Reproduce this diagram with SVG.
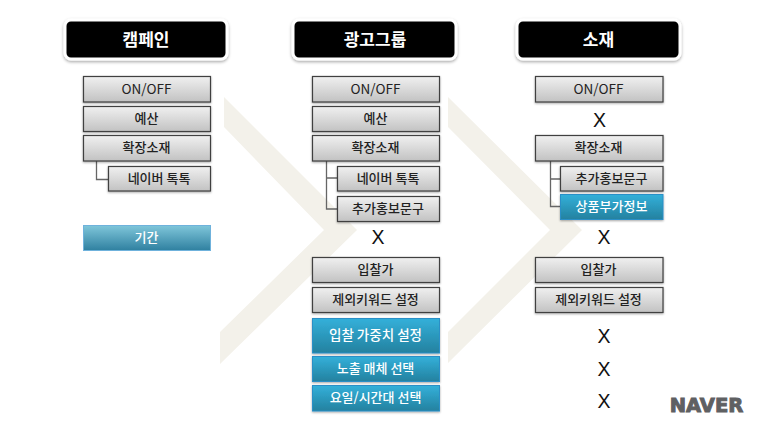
<svg xmlns="http://www.w3.org/2000/svg" width="760" height="424" viewBox="0 0 760 424">
<style>
text{font-family:"Noto Sans CJK KR","Liberation Sans",sans-serif;text-anchor:middle}
.h rect{fill:#000;stroke:#fff;stroke-width:3;filter:url(#hs)}
.h text{fill:#fff;font-size:17px;font-weight:700}
.g rect{fill:url(#gg);stroke:#3f3f3f;stroke-width:1.2;filter:url(#bs)}
.g text{fill:#222;font-size:13px;font-weight:500}
.b rect{fill:url(#bb);stroke:#2a8fc7;stroke-width:1;filter:url(#bs)}
.b text{fill:#fff;font-size:13px;font-weight:500}
.l rect{fill:url(#lb);stroke:#6fb2dc;stroke-width:1}
.l text{fill:#fff;font-size:13px;font-weight:500}
.g .en{font-weight:400;font-size:13.500px}
.b .big{font-size:13.500px}
.x{font-family:"Liberation Sans",sans-serif;font-size:19.500px;fill:#111}
#connectors path{fill:none;stroke:#666;stroke-width:1.3}
.c{fill:#f3f1ea}
</style>
<defs>
<linearGradient id="gg" x1="0" y1="0" x2="0" y2="1"><stop offset="0" stop-color="#f0f0f0"/><stop offset="1" stop-color="#c2c2c2"/></linearGradient>
<linearGradient id="bb" x1="0" y1="0" x2="0" y2="1"><stop offset="0" stop-color="#33b0da"/><stop offset="1" stop-color="#24819f"/></linearGradient>
<linearGradient id="lb" x1="0" y1="0" x2="0" y2="1"><stop offset="0" stop-color="#7fc6da"/><stop offset="1" stop-color="#2f80a0"/></linearGradient>
<filter id="hs" x="-10%" y="-20%" width="120%" height="150%"><feDropShadow dx="0" dy="1.5" stdDeviation="1.5" flood-color="#000" flood-opacity=".35"/></filter>
<filter id="bs" x="-5%" y="-10%" width="110%" height="130%"><feDropShadow dx="0" dy="1" stdDeviation=".8" flood-color="#000" flood-opacity=".35"/></filter>
</defs>
<rect width="760" height="424" fill="#fff"/>
<path class="c" d="M224 97V127L324 230L220 332V364L357 230Z"/>
<path class="c" d="M448 97V127L550 230L448 332V363L582 230Z"/>

<g id="connectors">
<path d="M96.500 161V179.500H108"/>
<path d="M326.500 161V209H337M326.500 178H337"/>
<path d="M550.500 161V206.500H560M550.500 179H560"/>
</g>

<g id="header-campaign" class="h"><rect x="65" y="20" width="162" height="39" rx="6"/><text x="146" y="46">캠페인</text></g>
<g id="header-adgroup" class="h"><rect x="293" y="20" width="163" height="39" rx="6"/><text x="375" y="46">광고그룹</text></g>
<g id="header-creative" class="h"><rect x="517" y="20" width="163" height="39" rx="6"/><text x="598.500" y="46">소재</text></g>

<g id="c1-onoff" class="g"><rect x="83.500" y="76.500" width="127" height="25.500"/><text class="en" x="146.500" y="93.500">ON/OFF</text></g>
<g id="c1-budget" class="g"><rect x="83.500" y="106.500" width="127" height="25"/><text x="146.500" y="123">예산</text></g>
<g id="c1-ext" class="g"><rect x="83.500" y="135.500" width="127" height="25.500"/><text x="146.500" y="152">확장소재</text></g>
<g id="c1-talk" class="g"><rect x="108.500" y="166.500" width="102" height="24.500"/><text x="159" y="183">네이버 톡톡</text></g>
<g id="c1-period" class="l"><rect x="83.500" y="225.500" width="127" height="25"/><text x="146.500" y="242">기간</text></g>

<g id="c2-onoff" class="g"><rect x="312.500" y="76.500" width="127" height="25.500"/><text class="en" x="375.500" y="93.500">ON/OFF</text></g>
<g id="c2-budget" class="g"><rect x="312.500" y="106.500" width="127" height="25"/><text x="375.500" y="123">예산</text></g>
<g id="c2-ext" class="g"><rect x="312.500" y="135.500" width="127" height="25.500"/><text x="375.500" y="152">확장소재</text></g>
<g id="c2-talk" class="g"><rect x="337.500" y="166.500" width="102" height="24.500"/><text x="388" y="183">네이버 톡톡</text></g>
<g id="c2-promo" class="g"><rect x="337.500" y="196.500" width="102" height="25"/><text x="388" y="213">추가홍보문구</text></g>
<text class="x" x="378" y="244">X</text>
<g id="c2-bid" class="g"><rect x="312.500" y="257.500" width="127" height="25"/><text x="375.500" y="274">입찰가</text></g>
<g id="c2-negative" class="g"><rect x="312.500" y="287.500" width="127" height="25"/><text x="375.500" y="304">제외키워드 설정</text></g>
<g id="c2-weight" class="b"><rect x="312.500" y="318.500" width="127" height="34.500"/><text class="big" x="375.500" y="340">입찰 가중치 설정</text></g>
<g id="c2-media" class="b"><rect x="312.500" y="356.500" width="127" height="25"/><text x="375.500" y="373">노출 매체 선택</text></g>
<g id="c2-time" class="b"><rect x="312.500" y="385.500" width="127" height="25.500"/><text x="375.500" y="402">요일/시간대 선택</text></g>

<g id="c3-onoff" class="g"><rect x="535.500" y="76.500" width="127.500" height="25.500"/><text class="en" x="598.500" y="93.500">ON/OFF</text></g>
<text class="x" x="599.500" y="126.500">X</text>
<g id="c3-ext" class="g"><rect x="535.500" y="135.500" width="127.500" height="25.500"/><text x="598.500" y="152">확장소재</text></g>
<g id="c3-promo" class="g"><rect x="560.500" y="166.500" width="102.500" height="24.500"/><text x="611.500" y="183">추가홍보문구</text></g>
<g id="c3-product" class="b"><rect x="560.500" y="194.500" width="102.500" height="25"/><text x="611.500" y="211">상품부가정보</text></g>
<text class="x" x="604" y="244">X</text>
<g id="c3-bid" class="g"><rect x="535.500" y="257.500" width="127.500" height="25"/><text x="598.500" y="274">입찰가</text></g>
<g id="c3-negative" class="g"><rect x="535.500" y="287.500" width="127.500" height="25"/><text x="598.500" y="304">제외키워드 설정</text></g>
<text class="x" x="604" y="343">X</text>
<text class="x" x="604" y="376">X</text>
<text class="x" x="604" y="408">X</text>

<text x="706.500" y="411.500" style="font-family:'DejaVu Sans',sans-serif;font-weight:700;font-size:19.500px;fill:#5f6062;stroke:#5f6062;stroke-width:1">NAVER</text>
</svg>
